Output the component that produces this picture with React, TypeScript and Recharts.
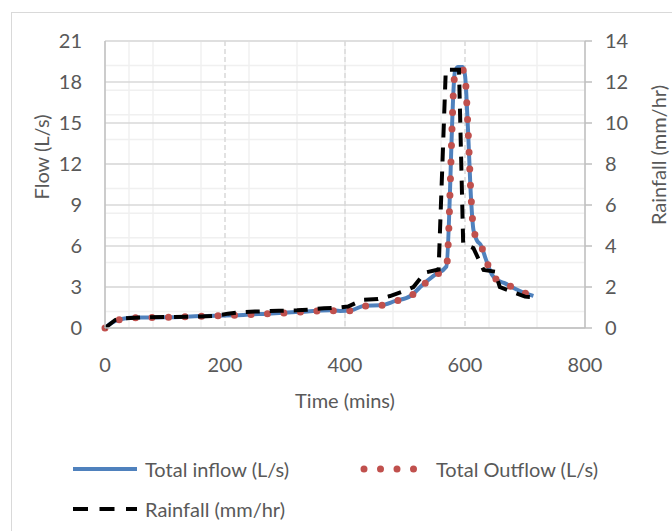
import React from 'react';
import { LineChart, Line, XAxis, YAxis, CartesianGrid } from 'recharts';

const FONT = 'Lato, "Open Sans", sans-serif';
const TEXT = '#595959';

// time in minutes, flow in L/s
const inflowTime = [0, 10, 22, 35, 50, 100, 160, 215, 270, 325, 375, 392, 410, 433, 459, 484, 509, 529, 548, 569, 583, 588, 596, 600, 605, 610, 614, 620, 626, 635, 645, 654, 665, 687, 700, 714];
const inflowValue = [0, 0.35, 0.6, 0.72, 0.76, 0.78, 0.87, 0.93, 1.05, 1.18, 1.3, 1.25, 1.3, 1.63, 1.66, 1.98, 2.34, 3.15, 3.83, 4.5, 18.7, 19.1, 19.1, 18.5, 14.5, 9.5, 7.2, 6.4, 6.1, 5.0, 3.9, 3.5, 3.3, 2.8, 2.55, 2.35];
const outflowValue = [0, 0.33, 0.58, 0.7, 0.75, 0.78, 0.86, 0.93, 1.04, 1.17, 1.28, 1.22, 1.28, 1.6, 1.65, 1.96, 2.32, 3.1, 3.8, 4.45, 18.5, 18.9, 18.9, 18.4, 14.6, 9.7, 7.3, 6.5, 6.1, 5.0, 3.95, 3.5, 3.3, 2.8, 2.55, 2.35];

// rainfall in mm/hr
const rainTime = [0, 17, 30, 60, 160, 185, 205, 225, 250, 290, 320, 345, 365, 390, 405, 430, 455, 475, 500, 514, 533, 556, 568, 590, 597, 614, 622, 631, 650, 658, 677, 700, 719];
const rainValue = [0, 0.39, 0.47, 0.52, 0.56, 0.6, 0.7, 0.76, 0.8, 0.84, 0.86, 0.91, 0.96, 1.0, 1.05, 1.38, 1.41, 1.56, 1.82, 2.0, 2.7, 2.85, 12.6, 12.6, 4.1, 3.9, 3.4, 2.83, 2.75, 2.0, 1.78, 1.53, 1.5];

const timeTicks = [0, 200, 400, 600, 800];
const flowTicks = [0, 3, 6, 9, 12, 15, 18, 21];
const rainTicks = [0, 2, 4, 6, 8, 10, 12, 14];
const timeMajor = [200, 400, 600];
const timeMinor = Array.from({ length: 21 }, (_, i) => i * 40);
const flowMinor = Array.from({ length: 36 }, (_, i) => Math.round(i * 6) / 10);

const inflowData = inflowTime.map((t, i) => ({ t, v: inflowValue[i] }));
const outflowData = inflowTime.map((t, i) => ({ t, v: outflowValue[i] }));
const rainData = rainTime.map((t, i) => ({ t, v: rainValue[i] }));

const tickStyle = { fill: TEXT, fontSize: 20, fontFamily: FONT };
const axisStyle = { stroke: '#BFBFBF', strokeWidth: 1.5 };

const TimeTitle = (props: any) => {
  const vb = props.viewBox || { x: 105, y: 328, width: 480 };
  return (
    <text x={vb.x + vb.width / 2} y={vb.y + 80} textAnchor="middle" fill={TEXT} fontSize={20} fontFamily={FONT}>
      Time (mins)
    </text>
  );
};

const FlowTitle = (props: any) => {
  const vb = props.viewBox || { x: 0, y: 41 };
  const x = vb.x + 41;
  const y = vb.y + 116;
  return (
    <text x={x} y={y} transform={`rotate(-90 ${x} ${y})`} textAnchor="middle" dominantBaseline="central" fill={TEXT} fontSize={20} fontFamily={FONT}>
      Flow (L/s)
    </text>
  );
};

const RainTitle = (props: any) => {
  const vb = props.viewBox || { x: 585, y: 41 };
  const x = vb.x + 73;
  const y = vb.y + 114;
  return (
    <text x={x} y={y} transform={`rotate(-90 ${x} ${y})`} textAnchor="middle" dominantBaseline="central" fill={TEXT} fontSize={20} fontFamily={FONT}>
      Rainfall (mm/hr)
    </text>
  );
};

const LegendItem = ({ left, top, swatch, label }: { left: number; top: number; swatch: React.ReactNode; label: string }) => (
  <div style={{ position: 'absolute', left, top: top - 12, height: 24, display: 'flex', alignItems: 'center', whiteSpace: 'nowrap' }}>
    {swatch}
    <span style={{ fontSize: 20, lineHeight: '24px', color: TEXT, fontFamily: FONT }}>{label}</span>
  </div>
);

export default function App() {
  return (
    <div style={{ position: 'absolute', left: 0, top: 0, width: 672, height: 531, overflow: 'hidden', background: '#fff' }}>
      <div style={{ position: 'absolute', left: 11, top: 12, width: 700, height: 560, border: '1px solid #D9D9D9' }} />
      <div style={{ position: 'absolute', left: 0, top: 0 }}>
        <LineChart width={672} height={531} margin={{ top: 41, right: 0, bottom: 0, left: 0 }}>
          <CartesianGrid yAxisId="flow" horizontalValues={flowMinor} verticalValues={timeMinor} stroke="#F0F0F0" strokeWidth={1.5} />
          <CartesianGrid yAxisId="flow" horizontalValues={flowTicks} vertical={false} stroke="#D9D9D9" strokeWidth={1.5} />
          <CartesianGrid yAxisId="flow" horizontal={false} verticalValues={timeMajor} stroke="#D9D9D9" strokeWidth={1.5} strokeDasharray="5 3" />
          <XAxis
            type="number"
            dataKey="t"
            domain={[0, 800]}
            ticks={timeTicks}
            height={203}
            tickLine={false}
            tickSize={0}
            tickMargin={30}
            axisLine={axisStyle}
            tick={tickStyle}
            label={<TimeTitle />}
          />
          <YAxis
            yAxisId="flow"
            domain={[0, 21]}
            ticks={flowTicks}
            width={105}
            tickLine={false}
            tickSize={0}
            tickMargin={23}
            axisLine={axisStyle}
            tick={tickStyle}
            label={<FlowTitle />}
          />
          <YAxis
            yAxisId="rain"
            orientation="right"
            domain={[0, 14]}
            ticks={rainTicks}
            width={87}
            tickSize={7}
            tickMargin={13}
            tickLine={axisStyle}
            axisLine={axisStyle}
            tick={{ ...tickStyle, textAnchor: 'start' }}
            label={<RainTitle />}
          />
          <Line yAxisId="flow" data={inflowData} dataKey="v" type="monotone" stroke="#4F81BD" strokeWidth={4} dot={false} activeDot={false} isAnimationActive={false} />
          <Line yAxisId="flow" data={outflowData} dataKey="v" type="monotone" stroke="#C0504D" strokeWidth={7} strokeLinecap="round" strokeDasharray="0 16.5" dot={false} activeDot={false} isAnimationActive={false} />
          <Line yAxisId="rain" data={rainData} dataKey="v" type="linear" stroke="#000000" strokeWidth={4} strokeDasharray="14 10" dot={false} activeDot={false} isAnimationActive={false} />
        </LineChart>
      </div>
      <LegendItem
        left={73}
        top={469}
        label="Total inflow (L/s)"
        swatch={<svg width={72} height={8} style={{ display: 'block' }}><line x1={0} y1={4} x2={64} y2={4} stroke="#4F81BD" strokeWidth={4} /></svg>}
      />
      <LegendItem
        left={360}
        top={469}
        label="Total Outflow (L/s)"
        swatch={<svg width={76} height={10} style={{ display: 'block' }}><line x1={4} y1={5} x2={54} y2={5} stroke="#C0504D" strokeWidth={7} strokeLinecap="round" strokeDasharray="0 16.5" /></svg>}
      />
      <LegendItem
        left={73}
        top={509}
        label="Rainfall (mm/hr)"
        swatch={<svg width={72} height={8} style={{ display: 'block' }}><line x1={0} y1={4} x2={64} y2={4} stroke="#000000" strokeWidth={4} strokeDasharray="15 11.5" /></svg>}
      />
    </div>
  );
}
